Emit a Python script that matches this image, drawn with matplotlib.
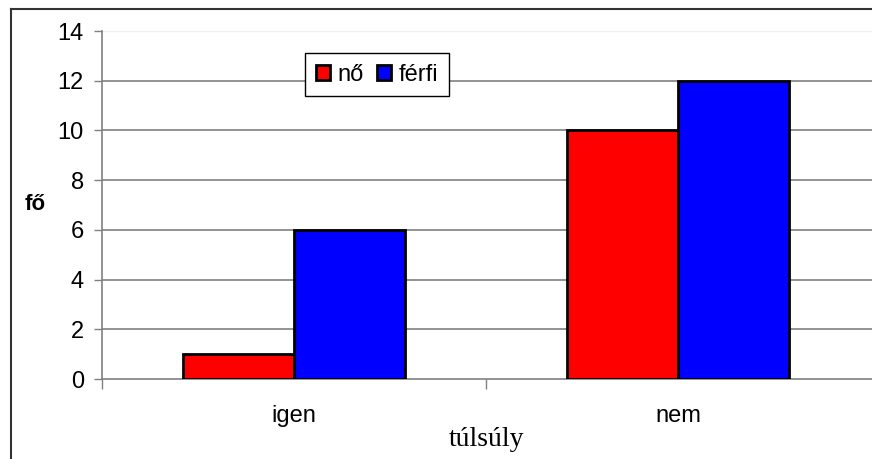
import matplotlib
matplotlib.use("Agg")
import matplotlib.pyplot as plt
from matplotlib.lines import Line2D
from matplotlib.ticker import FixedLocator

categories = ["igen", "nem"]
series_names = ["nő", "férfi"]
values_no = [1, 10]
values_ferfi = [6, 12]
series_colors = ["#ff0000", "#0000ff"]
y_ticks = [0, 2, 4, 6, 8, 10, 12, 14]

plt.rcParams["font.family"] = ["Liberation Sans", "DejaVu Sans"]

W, H = 872, 459
fig = plt.figure(figsize=(W / 100, H / 100), dpi=100)

# plot area in pixel coordinates (right edge runs off the canvas)
left_px, right_px, top_px, bottom_px = 102, 872, 31, 379
cat_px = 384
ax = fig.add_axes([left_px / W, 1 - bottom_px / H,
                   (right_px - left_px) / W, (bottom_px - top_px) / H])

x = list(range(len(categories)))
bw = 111 / cat_px
ax.bar([i - bw / 2 for i in x], values_no, width=bw,
       color=series_colors[0], edgecolor="black", linewidth=2,
       label=series_names[0], zorder=3)
ax.bar([i + bw / 2 for i in x], values_ferfi, width=bw,
       color=series_colors[1], edgecolor="black", linewidth=2,
       label=series_names[1], zorder=3)

ax.set_xlim(-0.5, -0.5 + (right_px - left_px) / cat_px)
ax.set_ylim(0, 14)

ax.set_yticks(y_ticks)
ax.set_yticklabels([str(t) for t in y_ticks])
ax.set_xticks(x)
ax.set_xticklabels(categories)
ax.xaxis.set_minor_locator(FixedLocator([-0.5, 0.5]))

ax.tick_params(axis="y", which="major", direction="out", length=6,
               width=1, color="#808080", labelsize=17, pad=7)
ax.tick_params(axis="x", which="major", length=0, labelsize=17, pad=19)
ax.tick_params(axis="x", which="minor", direction="out", length=7,
               width=1, color="#808080")

for t in y_ticks[1:-1]:
    ax.axhline(t, color="#808080", linewidth=1.2, zorder=1)
ax.axhline(14, color="#f0f0f0", linewidth=1, zorder=1)

for name in ["top", "right"]:
    ax.spines[name].set_visible(False)
ax.spines["left"].set_color("#808080")
ax.spines["left"].set_linewidth(1.2)
ax.spines["bottom"].set_color("#808080")
ax.spines["bottom"].set_linewidth(1.2)
ax.spines["bottom"].set_zorder(2)

ax.set_xlabel("túlsúly", family=["Liberation Serif", "DejaVu Serif"],
              fontsize=20, labelpad=0)
fig.text(35 / W, 1 - 205 / H, "fő", fontsize=16, fontweight="bold",
         ha="center", va="center")

leg = ax.legend(loc="upper left", bbox_to_anchor=(305 / W, 1 - 53 / H),
                bbox_transform=fig.transFigure, ncol=2, frameon=True,
                fancybox=False, edgecolor="black", framealpha=1,
                fontsize=17, handlelength=0.62, handleheight=0.62,
                handletextpad=0.3, columnspacing=0.55, borderpad=0.45,
                borderaxespad=0)
leg.get_frame().set_linewidth(1.0)
leg.set_zorder(5)

# outer chart frame
fig.add_artist(Line2D([11 / W, 11 / W], [0, 1 - 9 / H], color="#333333",
                      linewidth=1.5, transform=fig.transFigure))
fig.add_artist(Line2D([11 / W, 1], [1 - 9 / H, 1 - 9 / H], color="#333333",
                      linewidth=1.5, transform=fig.transFigure))

fig.savefig("out.png", dpi=100)
